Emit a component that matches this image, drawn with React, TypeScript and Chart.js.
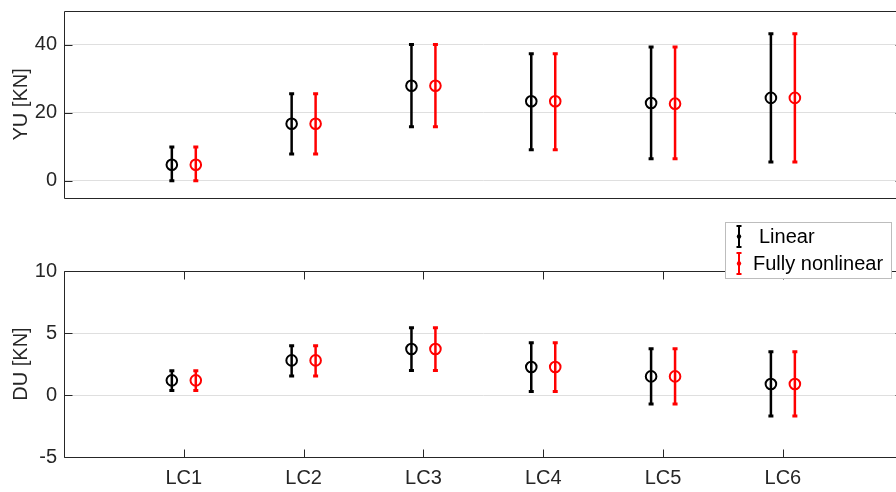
import React, { useEffect, useRef } from 'react';
import { Chart, registerables } from 'chart.js';

Chart.register(...registerables);

// ---- data ----
const categories = ['LC1', 'LC2', 'LC3', 'LC4', 'LC5', 'LC6'];

const yuLinearMean = [4.7, 16.8, 28.0, 23.4, 22.9, 24.4];
const yuLinearLow = [0, 7.9, 15.9, 9.1, 6.5, 5.5];
const yuLinearHigh = [9.9, 25.6, 40.1, 37.4, 39.4, 43.3];

const yuNonlinearMean = [4.7, 16.8, 28.0, 23.4, 22.7, 24.4];
const yuNonlinearLow = [0, 7.9, 15.9, 9.1, 6.5, 5.5];
const yuNonlinearHigh = [9.9, 25.6, 40.1, 37.4, 39.4, 43.3];

const duLinearMean = [1.18, 2.79, 3.71, 2.26, 1.5, 0.89];
const duLinearLow = [0.37, 1.53, 1.98, 0.29, -0.73, -1.69];
const duLinearHigh = [1.96, 3.98, 5.43, 4.22, 3.73, 3.49];

const duNonlinearMean = [1.18, 2.79, 3.71, 2.26, 1.5, 0.89];
const duNonlinearLow = [0.37, 1.53, 1.98, 0.29, -0.73, -1.69];
const duNonlinearHigh = [1.96, 3.98, 5.43, 4.22, 3.73, 3.49];

const yuTicks = [0, 20, 40];
const duTicks = [-5, 0, 5, 10];

const seriesLabels = ['Linear', 'Fully nonlinear'];
const seriesColors = ['#000000', '#ff0000'];

// ---- style ----
const FONT = "'Liberation Sans', Arial, Helvetica, sans-serif";
const AXIS = '#262626';
const GRID = '#dfdfdf';
const OFFSET = 0.1;
const FONT_SIZE = 20;

function points(means: number[], sign: number) {
  return means.map((v, i) => ({ x: i + 1 + sign * OFFSET, y: v }));
}

function makeDataset(label: string, color: string, means: number[], low: number[], high: number[], sign: number) {
  return {
    label,
    data: points(means, sign),
    errLow: low,
    errHigh: high,
    borderColor: color,
    backgroundColor: 'rgba(0,0,0,0)',
    pointBorderColor: color,
    pointBackgroundColor: 'rgba(0,0,0,0)',
    pointRadius: 5.3,
    pointBorderWidth: 2,
    pointHoverRadius: 5.3,
    showLine: false,
  } as any;
}

const errorBarPlugin = {
  id: 'errorBars',
  beforeDatasetsDraw(chart: any) {
    const { ctx, scales } = chart;
    const xs = scales.x;
    const ys = scales.y;
    chart.data.datasets.forEach((ds: any) => {
      ds.data.forEach((p: any, i: number) => {
        const px = xs.getPixelForValue(p.x);
        const top = ys.getPixelForValue(ds.errHigh[i]);
        const bot = ys.getPixelForValue(ds.errLow[i]);
        ctx.save();
        ctx.strokeStyle = ds.borderColor;
        ctx.lineWidth = 2.5;
        ctx.beginPath();
        ctx.moveTo(px, top);
        ctx.lineTo(px, bot);
        ctx.stroke();
        ctx.lineWidth = 3;
        ctx.beginPath();
        ctx.moveTo(px - 2.5, top);
        ctx.lineTo(px + 2.5, top);
        ctx.moveTo(px - 2.5, bot);
        ctx.lineTo(px + 2.5, bot);
        ctx.stroke();
        ctx.restore();
      });
    });
  },
};

const framePlugin = {
  id: 'frame',
  afterDatasetsDraw(chart: any, _args: any, opts: any) {
    const { ctx, chartArea, scales } = chart;
    const l = Math.round(chartArea.left) + 0.5;
    const r = Math.round(chartArea.right) + 0.5;
    const t = Math.round(chartArea.top) + 0.5;
    const b = Math.round(chartArea.bottom) + 0.5;
    ctx.save();
    ctx.strokeStyle = AXIS;
    ctx.lineWidth = 1;
    ctx.beginPath();
    ctx.moveTo(r, t);
    ctx.lineTo(l, t);
    ctx.lineTo(l, b);
    ctx.lineTo(r, b);
    ctx.lineTo(r, t);
    ctx.stroke();
    // y ticks inside
    ctx.beginPath();
    scales.y.ticks.forEach((tk: any) => {
      const py = Math.round(scales.y.getPixelForValue(tk.value)) + 0.5;
      ctx.moveTo(l, py);
      ctx.lineTo(l + 8, py);
      ctx.moveTo(r, py);
      ctx.lineTo(r - 8, py);
    });
    if (opts && opts.xTicks) {
      scales.x.ticks.forEach((tk: any) => {
        const px = Math.round(scales.x.getPixelForValue(tk.value)) + 0.5;
        ctx.moveTo(px, t);
        ctx.lineTo(px, t + 8);
        ctx.moveTo(px, b);
        ctx.lineTo(px, b - 8);
      });
    }
    ctx.stroke();
    ctx.restore();
  },
};

const legendPlugin = {
  id: 'errLegend',
  afterDraw(chart: any, _args: any, opts: any) {
    if (!opts || !opts.show) return;
    const { ctx } = chart;
    const oy = opts.offsetY;
    ctx.save();
    ctx.fillStyle = '#ffffff';
    ctx.fillRect(725.5, 222.5 - oy, 166, 56);
    ctx.strokeStyle = '#bdbdbd';
    ctx.lineWidth = 1;
    ctx.strokeRect(725.5, 222.5 - oy, 166, 56);
    const entries = [
      { y0: 226, y1: 247, tx: 759, ty: 237.5 },
      { y0: 253, y1: 274, tx: 753, ty: 264.5 },
    ];
    chart.data.datasets.forEach((ds: any, i: number) => {
      const e = entries[i];
      const ix = 739;
      ctx.strokeStyle = ds.borderColor;
      ctx.fillStyle = ds.borderColor;
      ctx.lineWidth = 2;
      ctx.beginPath();
      ctx.moveTo(ix, e.y0 - oy);
      ctx.lineTo(ix, e.y1 - oy);
      ctx.moveTo(ix - 2.5, e.y0 - oy);
      ctx.lineTo(ix + 2.5, e.y0 - oy);
      ctx.moveTo(ix - 2.5, e.y1 - oy);
      ctx.lineTo(ix + 2.5, e.y1 - oy);
      ctx.stroke();
      ctx.beginPath();
      ctx.arc(ix, (e.y0 + e.y1) / 2 - oy, 2.2, 0, Math.PI * 2);
      ctx.fill();
      ctx.fillStyle = '#000000';
      ctx.font = `${FONT_SIZE}px ${FONT}`;
      ctx.textBaseline = 'middle';
      ctx.textAlign = 'left';
      ctx.fillText(ds.label, e.tx, e.ty - oy);
    });
    ctx.restore();
  },
};

function yScale(min: number, max: number, ticks: number[], title: string) {
  return {
    type: 'linear',
    min,
    max,
    afterBuildTicks: (s: any) => {
      s.ticks = ticks.map((v) => ({ value: v }));
    },
    afterFit: (s: any) => {
      s.width = 64;
      s.paddingTop = 0;
      s.paddingBottom = 0;
    },
    grid: { color: GRID, lineWidth: 1, drawTicks: false },
    border: { display: false },
    ticks: { color: AXIS, font: { family: FONT, size: FONT_SIZE }, padding: 7 },
    title: {
      display: true,
      text: title,
      color: AXIS,
      font: { family: FONT, size: FONT_SIZE },
      padding: { top: 9.5, bottom: 0 },
    },
  } as any;
}

export default function App() {
  const topRef = useRef<HTMLCanvasElement>(null);
  const botRef = useRef<HTMLCanvasElement>(null);

  useEffect(() => {
    const top = new Chart(topRef.current as HTMLCanvasElement, {
      type: 'scatter',
      data: {
        datasets: [
          makeDataset(seriesLabels[0], seriesColors[0], yuLinearMean, yuLinearLow, yuLinearHigh, -1),
          makeDataset(seriesLabels[1], seriesColors[1], yuNonlinearMean, yuNonlinearLow, yuNonlinearHigh, 1),
        ],
      },
      options: {
        responsive: false,
        animation: false,
        devicePixelRatio: 1,
        events: [],
        layout: { padding: { left: 0, top: 11, right: 4.2, bottom: 7 } },
        plugins: {
          legend: { display: false },
          tooltip: { enabled: false },
          frame: { xTicks: false },
        } as any,
        scales: {
          x: { type: 'linear', min: 0, max: 7, display: false },
          y: yScale(-5, 50, yuTicks, 'YU [KN]'),
        },
      },
      plugins: [errorBarPlugin, framePlugin],
    });

    const bot = new Chart(botRef.current as HTMLCanvasElement, {
      type: 'scatter',
      data: {
        datasets: [
          makeDataset(seriesLabels[0], seriesColors[0], duLinearMean, duLinearLow, duLinearHigh, -1),
          makeDataset(seriesLabels[1], seriesColors[1], duNonlinearMean, duNonlinearLow, duNonlinearHigh, 1),
        ],
      },
      options: {
        responsive: false,
        animation: false,
        devicePixelRatio: 1,
        events: [],
        layout: { padding: { left: 0, top: 66, right: 4.2, bottom: 0 } },
        plugins: {
          legend: { display: false },
          tooltip: { enabled: false },
          frame: { xTicks: true },
          errLegend: { show: true, offsetY: 205 },
        } as any,
        scales: {
          x: {
            type: 'linear',
            min: 0,
            max: 7,
            position: 'bottom',
            afterBuildTicks: (s: any) => {
              s.ticks = categories.map((_, i) => ({ value: i + 1 }));
            },
            afterFit: (s: any) => {
              s.height = 35;
              s.paddingLeft = 0;
              s.paddingRight = 0;
            },
            grid: { display: false, drawTicks: false },
            border: { display: false },
            ticks: {
              autoSkip: false,
              maxRotation: 0,
              padding: 9,
              color: AXIS,
              font: { family: FONT, size: FONT_SIZE },
              callback: (_v: any, idx: number) => categories[idx],
            },
          } as any,
          y: yScale(-5, 10, duTicks, 'DU [KN]'),
        },
      },
      plugins: [errorBarPlugin, framePlugin, legendPlugin],
    });

    return () => {
      top.destroy();
      bot.destroy();
    };
  }, []);

  return (
    <div
      style={{
        position: 'fixed',
        left: 0,
        top: 0,
        width: 896,
        height: 492,
        overflow: 'hidden',
        background: '#ffffff',
      }}
    >
      <canvas
        ref={topRef}
        width={910}
        height={205}
        style={{ position: 'absolute', left: 0, top: 0, width: 910, height: 205 }}
      />
      <canvas
        ref={botRef}
        width={910}
        height={287}
        style={{ position: 'absolute', left: 0, top: 205, width: 910, height: 287 }}
      />
    </div>
  );
}
